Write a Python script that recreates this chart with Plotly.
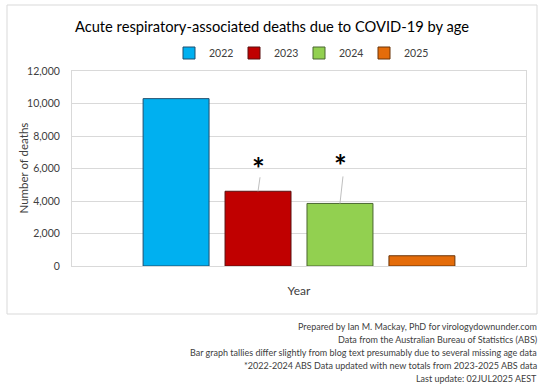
import plotly.graph_objects as go

categories = ["Year"]
series_names = ["2022", "2023", "2024", "2025"]
series_values = [10300, 4600, 3850, 630]
fill_colors = ["#00b0f0", "#c00000", "#92d050", "#e46c0a"]
edge_colors = ["#1f4e6e", "#5a1010", "#4a6630", "#6b3508"]
starred = ["2023", "2024"]
y_ticks = [0, 2000, 4000, 6000, 8000, 10000, 12000]
y_title = "Number of deaths"
footer_lines = [
    "Prepared by Ian M. Mackay, PhD for virologydownunder.com",
    "Data from the Australian Bureau of Statistics (ABS)",
    "Bar graph tallies differ slightly from blog text presumably due to several missing age data",
    "*2022-2024 ABS Data updated with new totals from 2023-2025 ABS data",
    "Last update: 02JUL2025 AEST",
]

FONT = "Lato"
W, H = 544, 384
ML, MR, MT, MB = 72, 18, 71, 118
PW, PH = W - ML - MR, H - MT - MB
BARGAP = 0.278
GROUPGAP = 0.195


def px_x(p):
    return (p - ML) / PW


def px_y(p):
    return (H - MB - p) / PH


fig = go.Figure()
for name, val, fc, ec in zip(series_names, series_values, fill_colors, edge_colors):
    fig.add_trace(go.Bar(
        x=categories, y=[val], name=name,
        marker=dict(color=fc, line=dict(color=ec, width=1)),
    ))

# asterisk annotations with leader lines (pixel offsets from the bar top)
n = len(series_names)
group_w = 1 - BARGAP
slot = group_w / n
ann = []
shapes = []
star_style = {"2023": dict(lx=2, ly=14, sx=0, sy=23),
              "2024": dict(lx=3, ly=27, sx=1, sy=38)}
for i, name in enumerate(series_names):
    if name in starred:
        xc = -group_w / 2 + slot * (i + 0.5)
        st = star_style[name]
        shapes.append(dict(
            type="line", xref="x", yref="y",
            xsizemode="pixel", ysizemode="pixel",
            xanchor=xc, yanchor=series_values[i],
            x0=0, y0=0, x1=st["lx"], y1=st["ly"],
            line=dict(color="#bfbfbf", width=1),
        ))
        ann.append(dict(
            x=xc, y=series_values[i], xref="x", yref="y",
            text="<b>*</b>", showarrow=False,
            xanchor="center", yanchor="middle",
            xshift=st["sx"], yshift=st["sy"],
            font=dict(family=FONT, size=30, color="#000000"),
        ))

# y-axis title
ann.append(dict(
    x=px_x(23), y=0.5, xref="paper", yref="paper",
    xanchor="center", yanchor="middle", showarrow=False, textangle=-90,
    text=y_title, font=dict(family=FONT, size=11.5, color="#404040"),
))

for k, line in enumerate(footer_lines):
    ann.append(dict(
        x=px_x(539), y=px_y(326 + 13 * k), xref="paper", yref="paper",
        xanchor="right", yanchor="middle", showarrow=False,
        text=line,
        font=dict(family=FONT, size=9, color="#404040"),
    ))

shapes.append(dict(type="rect", xref="paper", yref="paper",
                   x0=px_x(7), x1=px_x(537), y0=px_y(314), y1=px_y(5),
                   line=dict(color="#d9d9d9", width=1), layer="below"))

fig.update_layout(
    width=W, height=H,
    margin=dict(l=ML, r=MR, t=MT, b=MB, autoexpand=False),
    paper_bgcolor="white", plot_bgcolor="white",
    barmode="group", bargap=BARGAP, bargroupgap=GROUPGAP,
    title=dict(text="Acute respiratory-associated deaths due to COVID-19 by age",
               x=0.5, xanchor="center", y=1 - 27 / H, yanchor="middle",
               font=dict(family=FONT, size=14.7, color="#000000")),
    legend=dict(orientation="h", x=0.5, xanchor="center", y=px_y(53), yanchor="middle",
                font=dict(family=FONT, size=10.5, color="#404040"),
                itemwidth=30, entrywidth=20, traceorder="normal"),
    font=dict(family=FONT),
    annotations=ann,
    shapes=shapes,
)
fig.update_yaxes(
    range=[0, 12000], tickvals=y_ticks, tickformat=",", automargin=False,
    gridcolor="#d9d9d9", showline=True, mirror=True, linecolor="#d9d9d9",
    zeroline=False, ticks="", ticklabelstandoff=9,
    tickfont=dict(family=FONT, size=10.5, color="#404040"),
)
fig.update_xaxes(
    showline=True, mirror=True, linecolor="#d9d9d9", ticks="", automargin=False,
    ticklabelstandoff=14,
    tickfont=dict(family=FONT, size=12, color="#404040"),
)
fig.write_html("out.html", config={"displayModeBar": False},
               post_script="document.body.style.margin='0';")
